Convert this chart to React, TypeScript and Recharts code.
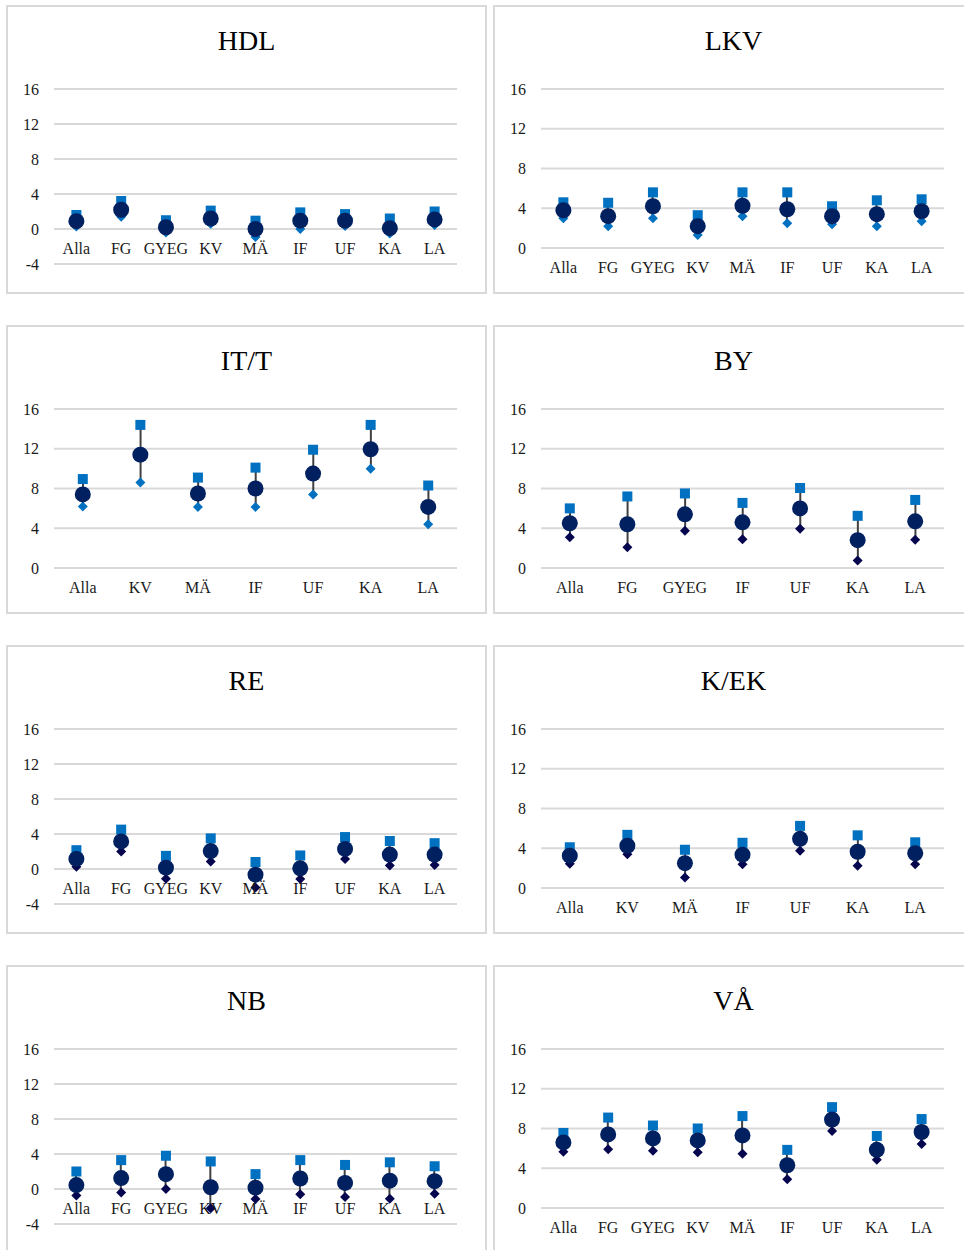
import { Bar, CartesianGrid, ComposedChart, LabelList, Line, XAxis, YAxis } from 'recharts';

// categories per panel
const groupsAll = ['Alla', 'FG', 'GYEG', 'KV', 'MÄ', 'IF', 'UF', 'KA', 'LA'];
const groupsIT = ['Alla', 'KV', 'MÄ', 'IF', 'UF', 'KA', 'LA'];
const groupsBY = ['Alla', 'FG', 'GYEG', 'IF', 'UF', 'KA', 'LA'];
const groupsKEK = ['Alla', 'KV', 'MÄ', 'IF', 'UF', 'KA', 'LA'];

const ticksWithNeg = [-4, 0, 4, 8, 12, 16];
const ticksPos = [0, 4, 8, 12, 16];

const hdlHigh = [1.6, 3.2, 1.0, 2.1, 0.95, 1.9, 1.7, 1.2, 2.0];
const hdlMean = [0.9, 2.2, 0.2, 1.2, 0.0, 0.95, 0.95, 0.1, 1.1];
const hdlLow = [0.3, 1.4, -0.4, 0.6, -0.9, 0.0, 0.35, -0.5, 0.45];

const lkvHigh = [4.6, 4.55, 5.6, 3.3, 5.6, 5.6, 4.2, 4.8, 4.9];
const lkvMean = [3.8, 3.2, 4.2, 2.2, 4.25, 3.9, 3.2, 3.4, 3.7];
const lkvLow = [3.0, 2.2, 3.0, 1.3, 3.2, 2.5, 2.4, 2.2, 2.7];

const itHigh = [8.95, 14.4, 9.1, 10.1, 11.9, 14.4, 8.3];
const itMean = [7.4, 11.4, 7.5, 8.0, 9.5, 11.95, 6.15];
const itLow = [6.2, 8.6, 6.15, 6.15, 7.4, 10.0, 4.4];

const byHigh = [6.0, 7.2, 7.5, 6.55, 8.05, 5.25, 6.85];
const byMean = [4.5, 4.4, 5.4, 4.6, 6.0, 2.8, 4.7];
const byLow = [3.1, 2.1, 3.75, 2.9, 3.95, 0.75, 2.85];

const reHigh = [2.15, 4.5, 1.5, 3.5, 0.8, 1.55, 3.65, 3.2, 2.95];
const reMean = [1.15, 3.15, 0.15, 2.05, -0.65, 0.08, 2.3, 1.65, 1.65];
const reLow = [0.25, 2.0, -1.1, 0.85, -2.1, -1.15, 1.15, 0.4, 0.45];

const kekHigh = [4.1, 5.35, 3.85, 4.55, 6.25, 5.3, 4.6];
const kekMean = [3.25, 4.25, 2.5, 3.35, 4.95, 3.65, 3.5];
const kekLow = [2.45, 3.4, 1.05, 2.4, 3.75, 2.25, 2.4];

const nbHigh = [2.0, 3.3, 3.8, 3.15, 1.7, 3.3, 2.75, 3.05, 2.6];
const nbMean = [0.45, 1.25, 1.7, 0.2, 0.15, 1.2, 0.7, 0.95, 0.9];
const nbLow = [-0.75, -0.4, 0.0, -2.2, -1.15, -0.6, -0.9, -1.1, -0.55];

const vaHigh = [7.55, 9.1, 8.3, 8.0, 9.25, 5.85, 10.15, 7.25, 8.95];
const vaMean = [6.6, 7.4, 7.0, 6.8, 7.3, 4.3, 8.9, 5.85, 7.65];
const vaLow = [5.65, 5.9, 5.75, 5.6, 5.45, 2.9, 7.75, 4.85, 6.45];

const BLUE = '#0070C0';
const NAVY = '#002060';
const DARK = '#06064F';
const STEM = '#404040';
const FONT = '"Liberation Serif", "DejaVu Serif", serif';

interface PanelSpec {
  title: string;
  groups: string[];
  high: number[];
  mean: number[];
  low: number[];
  ticks: number[];
  lowColor: string;
}

const panels: PanelSpec[] = [
  { title: 'HDL', groups: groupsAll, high: hdlHigh, mean: hdlMean, low: hdlLow, ticks: ticksWithNeg, lowColor: BLUE },
  { title: 'LKV', groups: groupsAll, high: lkvHigh, mean: lkvMean, low: lkvLow, ticks: ticksPos, lowColor: BLUE },
  { title: 'IT/T', groups: groupsIT, high: itHigh, mean: itMean, low: itLow, ticks: ticksPos, lowColor: BLUE },
  { title: 'BY', groups: groupsBY, high: byHigh, mean: byMean, low: byLow, ticks: ticksPos, lowColor: DARK },
  { title: 'RE', groups: groupsAll, high: reHigh, mean: reMean, low: reLow, ticks: ticksWithNeg, lowColor: DARK },
  { title: 'K/EK', groups: groupsKEK, high: kekHigh, mean: kekMean, low: kekLow, ticks: ticksPos, lowColor: DARK },
  { title: 'NB', groups: groupsAll, high: nbHigh, mean: nbMean, low: nbLow, ticks: ticksWithNeg, lowColor: DARK },
  { title: 'VÅ', groups: groupsAll, high: vaHigh, mean: vaMean, low: vaLow, ticks: ticksPos, lowColor: DARK },
];

const PANEL_W = 481;
const PANEL_H = 289;

const squareDot = (p: any) =>
  p.cx == null ? null : (
    <rect key={`sq-${p.index}`} x={p.cx - 5} y={p.cy - 5} width={10} height={10} fill={BLUE} />
  );

const circleDot = (p: any) =>
  p.cx == null ? null : <circle key={`ci-${p.index}`} cx={p.cx} cy={p.cy} r={8} fill={NAVY} />;

const diamondDot = (color: string) => (p: any) =>
  p.cx == null ? null : (
    <polygon
      key={`di-${p.index}`}
      points={`${p.cx},${p.cy - 5} ${p.cx + 5},${p.cy} ${p.cx},${p.cy + 5} ${p.cx - 5},${p.cy}`}
      fill={color}
    />
  );

function Panel({ spec, left, top }: { spec: PanelSpec; left: number; top: number }) {
  const data = spec.groups.map((g, i) => ({
    group: g,
    high: spec.high[i],
    mean: spec.mean[i],
    low: spec.low[i],
    zero: 0,
  }));
  const hasNeg = spec.ticks[0] < 0;

  return (
    <div
      style={{
        position: 'absolute',
        left,
        top,
        width: PANEL_W,
        height: PANEL_H,
        boxSizing: 'border-box',
        border: '2px solid #d9d9d9',
        background: '#fff',
      }}
    >
      <div
        style={{
          position: 'absolute',
          left: 0,
          right: 0,
          top: 19.5,
          textAlign: 'center',
          fontFamily: FONT,
          fontSize: 28,
          lineHeight: '28px',
          color: '#000',
        }}
      >
        {spec.title}
      </div>
      <div style={{ position: 'absolute', left: -2, top: -2 }}>
        <ComposedChart
          width={PANEL_W}
          height={PANEL_H}
          data={data}
          margin={{ top: 84, right: 30, bottom: hasNeg ? 30 : 46, left: 0 }}
        >
          <CartesianGrid vertical={false} stroke="#d9d9d9" strokeWidth={2} />
          <XAxis dataKey="group" type="category" hide />
          <YAxis
            type="number"
            width={48}
            domain={[spec.ticks[0], spec.ticks[spec.ticks.length - 1]]}
            ticks={spec.ticks}
            interval={0}
            axisLine={false}
            tickLine={false}
            tickSize={0}
            tickMargin={15}
            tick={{ fill: '#1a1a1a', fontSize: 16, fontFamily: FONT }}
          />
          {/* category labels sit just under the zero line */}
          <Line dataKey="zero" stroke="none" dot={false} activeDot={false} isAnimationActive={false}>
            <LabelList
              dataKey="group"
              position="bottom"
              offset={14}
              fill="#1a1a1a"
              fontSize={16}
              fontFamily={FONT}
            />
          </Line>
          <Bar
            dataKey={(d: any) => [d.low, d.high]}
            barSize={2}
            fill={STEM}
            isAnimationActive={false}
          />
          <Line dataKey="low" stroke="none" dot={diamondDot(spec.lowColor)} activeDot={false} isAnimationActive={false} />
          <Line dataKey="high" stroke="none" dot={squareDot} activeDot={false} isAnimationActive={false} />
          <Line dataKey="mean" stroke="none" dot={circleDot} activeDot={false} isAnimationActive={false} />
        </ComposedChart>
      </div>
    </div>
  );
}

export default function App() {
  return (
    <div
      style={{
        position: 'absolute',
        left: 0,
        top: 0,
        width: 964,
        height: 1250,
        overflow: 'hidden',
        background: '#fff',
      }}
    >
      {panels.map((spec, i) => (
        <Panel
          key={spec.title}
          spec={spec}
          left={i % 2 === 0 ? 6 : 493}
          top={5 + Math.floor(i / 2) * 320}
        />
      ))}
    </div>
  );
}
